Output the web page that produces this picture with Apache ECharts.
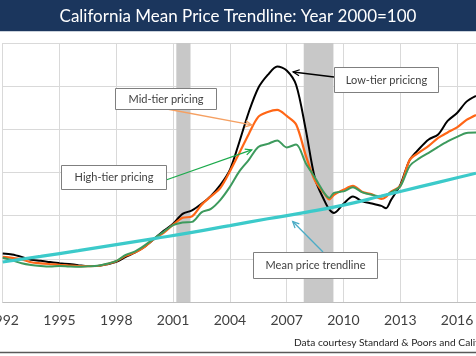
<!DOCTYPE html>
<html><head><meta charset="utf-8">
<script src="https://cdn.jsdelivr.net/npm/echarts@6/dist/echarts.min.js"></script>
<style>html,body{margin:0;padding:0;background:#fff}#c{width:476px;height:356px}</style>
</head><body><div id="c"></div>
<script>
// ---- data (index, year 2000 = 100) ----
const years = [1992, 1992.5, 1993, 1993.5, 1994, 1994.5, 1995, 1995.5, 1996, 1996.5,
  1997, 1997.5, 1998, 1998.5, 1999, 1999.5, 2000, 2000.5, 2001, 2001.5,
  2002, 2002.5, 2003, 2003.5, 2004, 2004.5, 2005, 2005.5, 2006, 2006.5,
  2007, 2007.5, 2008, 2008.5, 2009, 2009.25, 2009.5, 2010, 2010.5, 2011,
  2011.5, 2012, 2012.25, 2012.5, 2013, 2013.5, 2014, 2014.5, 2015, 2015.5,
  2016, 2016.5, 2017];
const lowTier = [81.3, 80.1, 77.3, 73.8, 72.7, 71.2, 70.0, 68.9, 67.7, 66.6,
  66.7, 68.6, 71.5, 77.3, 82.5, 89.2, 98.1, 107.4, 115.5, 127.1,
  131.1, 138.7, 147.9, 160.6, 178.0, 210.4, 245.1, 272.9, 288.0, 297.8,
  293.2, 276.4, 225.5, 167.6, 142.1, 132.3, 128.2, 138.7, 147.1, 141.6,
  139.2, 136.3, 133.7, 142.7, 160.6, 189.6, 202.5, 213.3, 219.1, 234.7,
  244.0, 257.1, 263.7];
const midTier = [77.3, 76.2, 74.4, 71.0, 69.8, 68.9, 68.1, 67.2, 66.6, 66.6,
  66.7, 68.9, 72.1, 78.5, 82.5, 88.9, 98.1, 105.1, 114.5, 122.5,
  124.2, 137.5, 147.3, 157.2, 176.3, 197.7, 219.7, 239.4, 245.1, 247.5,
  240.5, 230.7, 195.4, 165.3, 150.2, 143.9, 149.1, 154.9, 159.5, 152.5,
  149.7, 144.4, 146.8, 152.5, 159.5, 189.6, 198.3, 205.8, 215.0, 221.4,
  227.2, 235.9, 241.7];
const highTier = [76.2, 73.3, 69.8, 67.8, 66.7, 66.1, 66.7, 66.1, 65.7, 66.3,
  66.9, 69.2, 72.7, 79.6, 83.7, 90.6, 98.7, 106.3, 114.0, 117.2,
  117.8, 128.8, 132.9, 143.3, 158.3, 176.3, 189.6, 204.6, 208.1, 212.2,
  204.1, 207.5, 186.1, 168.8, 150.8, 145.6, 151.4, 153.1, 157.8, 152.0,
  149.1, 147.3, 149.1, 152.0, 158.9, 182.6, 191.3, 197.7, 204.6, 211.0,
  216.2, 220.8, 221.2];
const trendYears = [1992, 1994, 1996, 1998, 2000, 2002, 2004, 2006, 2008, 2010, 2012, 2014, 2016, 2017];
const trendValues = [71.3, 77.8, 84.5, 91.4, 98.4, 105.6, 113.5, 121.4, 128.8, 137.2, 147.7, 158.3, 168.9, 174.2];
const tickYears = [1992, 1995, 1998, 2001, 2004, 2007, 2010, 2013, 2016];
const recessionStart = [2001.17, 2007.9];
const recessionEnd = [2001.92, 2009.47];
const seriesNames = ['Low-tier pricing', 'Mid-tier pricing', 'High-tier pricing', 'Mean price trendline'];
const annotationTexts = ['Low-tier pricicng', 'Mid-tier pricing', 'High-tier pricing', 'Mean price trendline'];
const arrowTargetYears = [2007.34, 2005.15, 2005.15, 2007.32];
const arrowTargetValues = [291.4, 230.1, 201.2, 118.2];
const titleText = 'California Mean Price Trendline: Year 2000=100';
const creditText = 'Data courtesy Standard & Poors and California Association of Realtors';

// ---- layout / style ----
const FONT = 'Lato, "Open Sans", sans-serif';
const boxLayout = [
  {x: 334, y: 67, w: 104, h: 25, sx: 334, sy: 77, color: '#000000'},
  {x: 115, y: 88, w: 101, h: 21, sx: 167, sy: 109, color: '#f5a062'},
  {x: 61, y: 165, w: 105, h: 24, sx: 166, sy: 180, color: '#1caa4c'},
  {x: 253, y: 252, w: 124, h: 26, sx: 323, sy: 252, color: '#4bacc6'}
];
const pair = (xs, ys) => xs.map((x, i) => [x, ys[i]]);

const chart = echarts.init(document.getElementById('c'), null, {renderer: 'canvas'});
const option = {
  animation: false,
  backgroundColor: '#ffffff',
  grid: {left: 2.7, right: 0, top: 43, bottom: 54, outerBoundsMode: 'none', containLabel: false},
  xAxis: {
    type: 'value', min: tickYears[0], max: 2017, interval: 3,
    axisLine: {show: true, lineStyle: {color: '#bfbfbf', width: 1}},
    axisTick: {show: false},
    splitLine: {show: true, lineStyle: {color: '#d9d9d9', width: 1}},
    axisLabel: {
      color: '#404040', fontFamily: FONT, fontSize: 14, margin: 11,
      formatter: v => tickYears.indexOf(v) >= 0 ? String(v) : ''
    }
  },
  yAxis: {
    type: 'value', min: 25, max: 325, interval: 50,
    axisLine: {show: false}, axisTick: {show: false}, axisLabel: {show: false},
    splitLine: {show: true, lineStyle: {color: '#d9d9d9', width: 1}}
  },
  series: [
    {
      name: 'Recessions', type: 'line', data: [], silent: true, z: 1,
      markArea: {
        silent: true,
        itemStyle: {color: '#c8c8c8'},
        data: recessionStart.map((s, i) => [{xAxis: s}, {xAxis: recessionEnd[i]}])
      }
    },
    {name: seriesNames[0], type: 'line', data: pair(years, lowTier), showSymbol: false, smooth: 0.3,
     lineStyle: {color: '#000000', width: 2}, z: 3},
    {name: seriesNames[1], type: 'line', data: pair(years, midTier), showSymbol: false, smooth: 0.3,
     lineStyle: {color: '#ff6616', width: 2.2}, z: 3},
    {name: seriesNames[2], type: 'line', data: pair(years, highTier), showSymbol: false, smooth: 0.3,
     lineStyle: {color: '#3d9a5d', width: 2}, z: 3},
    {name: seriesNames[3], type: 'line', data: pair(trendYears, trendValues), showSymbol: false, smooth: true,
     lineStyle: {color: '#3ccaca', width: 3.2}, z: 4}
  ]
};
chart.setOption(option);

// ---- decorations: title bar, annotation boxes with arrows, credit ----
const graphics = [
  {type: 'rect', shape: {x: 0, y: 0, width: 476, height: 31}, style: {fill: '#1b365d'}, z: 10},
  {type: 'line', shape: {x1: 0, y1: 31.5, x2: 476, y2: 31.5}, style: {stroke: '#c9d1db', lineWidth: 1}, z: 10},
  {type: 'text', x: 238, y: 17, style: {text: titleText, fill: '#ffffff', font: '17px ' + FONT,
    textAlign: 'center', textVerticalAlign: 'middle'}, z: 11},
  {type: 'text', x: 294, y: 343, style: {text: creditText, fill: '#262626', font: '10.2px ' + FONT,
    textAlign: 'left', textVerticalAlign: 'middle'}, z: 11},
  {type: 'line', shape: {x1: 0, y1: 352.5, x2: 476, y2: 352.5}, style: {stroke: '#595959', lineWidth: 1.5}, z: 10}
];
boxLayout.forEach((b, i) => {
  const t = chart.convertToPixel({gridIndex: 0}, [arrowTargetYears[i], arrowTargetValues[i]]);
  const ang = Math.atan2(t[1] - b.sy, t[0] - b.sx);
  const L = 7, spread = 0.45;
  const h1 = [t[0] - L * Math.cos(ang - spread), t[1] - L * Math.sin(ang - spread)];
  const h2 = [t[0] - L * Math.cos(ang + spread), t[1] - L * Math.sin(ang + spread)];
  graphics.push({type: 'line', shape: {x1: b.sx, y1: b.sy, x2: t[0], y2: t[1]},
    style: {stroke: b.color, lineWidth: 1.3}, z: 12});
  graphics.push({type: 'polyline', shape: {points: [h1, t, h2]},
    style: {stroke: b.color, lineWidth: 1.3, fill: null}, z: 12});
  graphics.push({type: 'rect', shape: {x: b.x + 0.5, y: b.y + 0.5, width: b.w, height: b.h},
    style: {fill: '#ffffff', stroke: '#7f7f7f', lineWidth: 1}, z: 13});
  graphics.push({type: 'text', x: b.x + b.w / 2 + 0.5, y: b.y + b.h / 2 + 0.5,
    style: {text: annotationTexts[i], fill: '#404040', font: '11px ' + FONT,
      textAlign: 'center', textVerticalAlign: 'middle'}, z: 14});
});
chart.setOption({graphic: graphics});
</script>
</body></html>
